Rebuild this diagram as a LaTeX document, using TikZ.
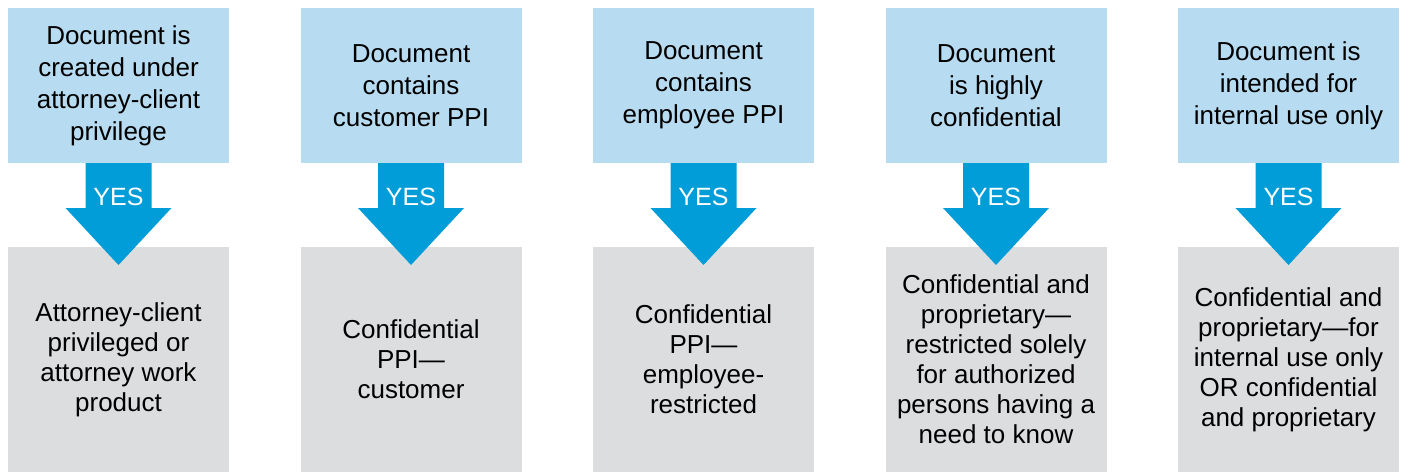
\documentclass[tikz,border=0pt]{standalone}
\usepackage{fontspec}
\setmainfont{Liberation Sans}
\usepackage{tikz}
\usetikzlibrary{calc,positioning}
\definecolor{qblue}{RGB}{183,220,241}
\definecolor{arrowblue}{RGB}{0,157,217}
\definecolor{rgray}{RGB}{220,221,223}
% arrow from question (#1) to result (#2), label node #3
\def\yesarrow(#1)(#2)#3{\fill[arrowblue] ($(#1.south)+(-33,0)$) -- ($(#1.south)+(33,0)$) -- ($(#1.south)+(33,45)$) -- ($(#1.south)+(53,45)$) -- ($(#2.north)+(0,18)$) -- ($(#1.south)+(-53,45)$) -- ($(#1.south)+(-33,45)$) -- cycle;
	\node[yes] (#3) at ($(#1.south)+(0,34)$) {YES};}

\begin{document}
\begin{tikzpicture}[x=0.5pt, y=-0.5pt,
	question/.style={fill=qblue, minimum width=110.5pt, minimum height=77.5pt, inner sep=0pt, outer sep=0pt, align=center, font=\fontsize{13}{16}\selectfont},
	result/.style={fill=rgray, minimum width=110.5pt, minimum height=112.5pt, inner sep=0pt, outer sep=0pt, align=center, font=\fontsize{13}{15}\selectfont},
	yes/.style={text=white, inner sep=0pt, font=\fontsize{12.5}{15}\selectfont}]
		%%%%% START %%%%%
		\useasboundingbox (0, 0) rectangle (1403, 472);
		
		\node[question] (q1) at (118.5, 85.5) {Document is\\created under\\attorney-client\\privilege};
		\node[question, right=35.75pt of q1] (q2) {Document\\contains\\customer PPI};
		\node[question, right=35.75pt of q2] (q3) {Document\\contains\\employee PPI};
		\node[question, right=35.75pt of q3] (q4) {Document\\is highly\\confidential};
		\node[question, right=35.75pt of q4] (q5) {Document is\\intended for\\internal use only};
		
		\node[result, below=42pt of q1] (r1) {Attorney-client\\privileged or\\attorney work\\product};
		\node[result, below=42pt of q2] (r2) {Confidential\\PPI—\\customer};
		\node[result, below=42pt of q3] (r3) {Confidential\\PPI—\\employee-\\restricted};
		\node[result, below=42pt of q4] (r4) {Confidential and\\proprietary—\\restricted solely\\for authorized\\persons having a\\need to know};
		\node[result, below=42pt of q5] (r5) {Confidential and\\proprietary—for\\internal use only\\OR confidential\\and proprietary};
		
		\yesarrow(q1)(r1){y1}
		\yesarrow(q2)(r2){y2}
		\yesarrow(q3)(r3){y3}
		\yesarrow(q4)(r4){y4}
		\yesarrow(q5)(r5){y5}
		
		%%%%% END %%%%%
\end{tikzpicture}
\end{document}
